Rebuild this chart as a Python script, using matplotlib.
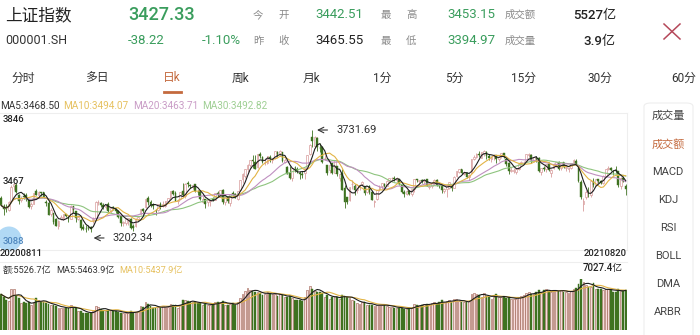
import numpy as np
import pandas as pd
import matplotlib
matplotlib.use("Agg")
import matplotlib.pyplot as plt
from matplotlib.patches import FancyBboxPatch, Ellipse
from matplotlib.lines import Line2D

plt.rcParams['font.family'] = ['Roboto', 'Noto Sans CJK SC', 'DejaVu Sans']

# daily bars 2020-08-11 .. 2021-08-20
opens = [3380, 3335, 3325, 3317, 3365, 3440, 3448, 3395, 3368, 3390, 3392, 3370, 3335, 3349, 3416,
         3396, 3410, 3410, 3360, 3355, 3296, 3300, 3270, 3234, 3270, 3277, 3295, 3280, 3272, 3335, 3309, 3272, 3263, 3226, 3219, 3225, 3230,
         3263, 3275, 3356, 3354, 3340, 3332, 3345, 3311, 3333, 3321, 3313, 3283, 3250, 3250, 3263, 3271,
         3234, 3232, 3268, 3294, 3320, 3330, 3378, 3356, 3342, 3312, 3315, 3348, 3339, 3338, 3364, 3383, 3414, 3405, 3365, 3373, 3414,
         3388, 3455, 3447, 3437, 3449, 3412, 3413, 3358, 3374, 3357, 3361, 3374, 3369, 3404, 3394, 3420, 3358, 3386, 3353, 3403, 3398, 3375, 3419,
         3475, 3492, 3530, 3552, 3577, 3567, 3538, 3608, 3594, 3564, 3558, 3593, 3575, 3586, 3615, 3612, 3620, 3567, 3542, 3510,
         3484, 3535, 3531, 3510, 3505, 3510, 3534, 3607, 3697, 3649, 3691, 3638, 3646, 3584, 3548,
         3526, 3560, 3510, 3545, 3485, 3510, 3430, 3383, 3366, 3450, 3443, 3418, 3435, 3451, 3442, 3410, 3442, 3410, 3356, 3371, 3423, 3439, 3454,
         3441, 3470, 3481, 3482, 3473, 3478, 3444, 3412, 3399, 3417, 3401, 3424, 3475, 3467, 3474, 3465, 3476, 3436, 3443, 3455, 3470,
         3442, 3443, 3417, 3426, 3432, 3441, 3432, 3494, 3516, 3527, 3502, 3509, 3489, 3507, 3583, 3590, 3608, 3588,
         3611, 3619, 3597, 3579, 3597, 3600, 3580, 3596, 3610, 3583, 3563, 3518, 3520, 3515, 3530, 3559, 3565, 3570, 3604, 3604, 3575,
         3589, 3589, 3513, 3531, 3527, 3553, 3506, 3532, 3547, 3568, 3533, 3566, 3536, 3531, 3532, 3565, 3571, 3537, 3464, 3347, 3385, 3402,
         3396, 3466, 3448, 3475, 3465, 3457, 3495, 3531, 3534, 3517, 3523, 3517, 3441, 3480, 3442.51]

closes = [3340, 3320, 3320, 3360, 3438, 3451, 3408, 3364, 3381, 3386, 3374, 3330, 3350, 3404, 3396,
          3411, 3405, 3385, 3355, 3292, 3316, 3255, 3235, 3260, 3278, 3295, 3284, 3270, 3338, 3316, 3275, 3279, 3223, 3219, 3217, 3224, 3218,
          3272, 3359, 3359, 3340, 3332, 3336, 3313, 3328, 3325, 3312, 3278, 3251, 3254, 3270, 3273, 3225,
          3225, 3272, 3278, 3320, 3312, 3373, 3360, 3342, 3338, 3310, 3346, 3339, 3347, 3363, 3377, 3414, 3402, 3362, 3369, 3408, 3392,
          3452, 3449, 3442, 3445, 3416, 3411, 3371, 3373, 3347, 3369, 3367, 3366, 3404, 3395, 3421, 3357, 3383, 3363, 3397, 3397, 3379, 3415, 3473,
          3503, 3528, 3550, 3576, 3570, 3531, 3608, 3598, 3566, 3566, 3596, 3584, 3584, 3622, 3607, 3625, 3570, 3574, 3505, 3483,
          3533, 3533, 3518, 3501, 3496, 3532, 3604, 3655, 3675, 3696, 3642, 3636, 3564, 3585, 3509,
          3551, 3508, 3576, 3503, 3502, 3421, 3360, 3357, 3436, 3454, 3419, 3447, 3446, 3464, 3405, 3443, 3411, 3367, 3364, 3418, 3435, 3457, 3442,
          3467, 3484, 3483, 3479, 3482, 3451, 3412, 3397, 3417, 3399, 3427, 3477, 3473, 3472, 3466, 3474, 3441, 3442, 3458, 3474, 3447,
          3441, 3419, 3428, 3441, 3463, 3429, 3490, 3518, 3529, 3510, 3507, 3487, 3497, 3581, 3593, 3609, 3601, 3615,
          3625, 3597, 3585, 3592, 3599, 3581, 3592, 3610, 3590, 3557, 3518, 3525, 3526, 3530, 3557, 3567, 3566, 3607, 3606, 3574, 3591,
          3588, 3519, 3534, 3531, 3553, 3525, 3525, 3548, 3567, 3528, 3565, 3539, 3539, 3537, 3562, 3575, 3550, 3467, 3382, 3361, 3411, 3397,
          3465, 3447, 3477, 3467, 3458, 3494, 3529, 3532, 3524, 3517, 3517, 3447, 3485, 3465, 3427.33]

highs = [3390, 3345, 3350, 3361, 3444, 3458, 3455, 3398, 3390, 3406, 3403, 3376, 3360, 3405, 3424,
         3414, 3412, 3412, 3370, 3363, 3327, 3303, 3276, 3264, 3291, 3296, 3298, 3289, 3340, 3337, 3310, 3293, 3268, 3246, 3237, 3236, 3234,
         3280, 3361, 3366, 3358, 3353, 3344, 3357, 3333, 3335, 3329, 3318, 3285, 3258, 3275, 3276, 3276,
         3245, 3275, 3287, 3322, 3327, 3373, 3388, 3369, 3352, 3322, 3348, 3357, 3363, 3365, 3378, 3415, 3420, 3413, 3373, 3410, 3456,
         3457, 3465, 3453, 3448, 3452, 3420, 3420, 3390, 3376, 3373, 3369, 3383, 3404, 3413, 3421, 3424, 3383, 3390, 3398, 3413, 3407, 3415, 3474,
         3511, 3528, 3556, 3577, 3601, 3600, 3608, 3617, 3595, 3588, 3597, 3601, 3587, 3625, 3622, 3626, 3620, 3588, 3545, 3546,
         3534, 3544, 3540, 3519, 3521, 3533, 3604, 3658, 3731.69, 3702, 3698, 3666, 3648, 3603, 3548,
         3552, 3562, 3577, 3545, 3505, 3528, 3445, 3386, 3437, 3473, 3452, 3450, 3450, 3468, 3443, 3443, 3446, 3416, 3369, 3418, 3448, 3458, 3458,
         3471, 3485, 3488, 3491, 3490, 3478, 3445, 3418, 3418, 3421, 3428, 3477, 3479, 3473, 3477, 3476, 3479, 3446, 3460, 3475, 3475,
         3459, 3452, 3431, 3442, 3463, 3447, 3491, 3521, 3530, 3531, 3520, 3512, 3504, 3582, 3600, 3611, 3621, 3617,
         3626, 3624, 3605, 3598, 3609, 3602, 3599, 3611, 3611, 3584, 3564, 3539, 3536, 3532, 3558, 3569, 3572, 3609, 3612, 3607, 3593,
         3599, 3590, 3535, 3547, 3556, 3568, 3528, 3563, 3568, 3570, 3566, 3566, 3549, 3540, 3562, 3579, 3582, 3537, 3473, 3378, 3422, 3438,
         3465, 3482, 3478, 3478, 3471, 3496, 3529, 3543, 3540, 3524, 3543, 3521, 3486, 3491, 3453.15]

lows = [3335, 3292, 3305, 3310, 3360, 3420, 3404, 3349, 3360, 3372, 3365, 3328, 3322, 3345, 3395,
        3385, 3390, 3379, 3335, 3290, 3285, 3246, 3234, 3217, 3262, 3262, 3278, 3256, 3271, 3300, 3254, 3265, 3215, 3211, 3204, 3213, 3202.34,
        3250, 3273, 3342, 3330, 3323, 3320, 3308, 3302, 3316, 3300, 3275, 3235, 3231, 3237, 3240, 3220,
        3208, 3226, 3260, 3289, 3295, 3327, 3343, 3334, 3320, 3290, 3312, 3320, 3332, 3332, 3355, 3375, 3394, 3362, 3347, 3368, 3387,
        3381, 3436, 3430, 3426, 3412, 3395, 3370, 3358, 3325, 3339, 3338, 3364, 3366, 3384, 3385, 3347, 3342, 3355, 3336, 3386, 3378, 3370, 3418,
        3457, 3484, 3513, 3539, 3532, 3527, 3533, 3586, 3558, 3548, 3557, 3564, 3562, 3579, 3590, 3600, 3565, 3561, 3504, 3478,
        3466, 3515, 3508, 3479, 3482, 3478, 3534, 3601, 3642, 3639, 3625, 3620, 3563, 3574, 3496,
        3511, 3501, 3506, 3492, 3465, 3420, 3329, 3350, 3361, 3428, 3395, 3404, 3418, 3441, 3396, 3405, 3399, 3366, 3332, 3367, 3415, 3428, 3437,
        3439, 3461, 3461, 3468, 3463, 3444, 3406, 3382, 3393, 3394, 3390, 3410, 3462, 3454, 3455, 3453, 3439, 3423, 3433, 3444, 3442,
        3429, 3407, 3404, 3386, 3423, 3417, 3430, 3489, 3510, 3502, 3496, 3483, 3471, 3507, 3578, 3584, 3593, 3585,
        3595, 3580, 3577, 3565, 3578, 3563, 3570, 3589, 3586, 3545, 3505, 3513, 3508, 3502, 3523, 3552, 3553, 3566, 3593, 3563, 3567,
        3568, 3512, 3496, 3517, 3516, 3521, 3488, 3530, 3540, 3524, 3526, 3535, 3521, 3516, 3527, 3554, 3550, 3463, 3371, 3312, 3374, 3386,
        3386, 3437, 3444, 3456, 3452, 3452, 3491, 3523, 3518, 3497, 3511, 3434, 3427, 3464, 3394.97]

# turnover, 亿
turnover = [4900, 4500, 4100, 4000, 5600, 5600, 4700, 4400, 3700, 3800, 3700, 3800, 3500, 3900, 4400,
            4100, 3900, 3800, 3700, 3600, 3400, 3400, 3300, 3100, 3000, 3100, 3000, 3000, 3400, 3100, 3000, 2600, 2600, 2400, 2300, 2400, 2300,
            2600, 3300, 3200, 2900, 2700, 2600, 2700, 2700, 2600, 2600, 2500, 2400, 2300, 2300, 2400, 2600,
            2400, 2500, 2600, 3300, 3200, 3900, 3600, 3300, 3100, 3000, 3200, 3100, 3300, 3200, 3200, 3600, 3400, 3500, 3100, 3500, 4100,
            4100, 4000, 3800, 3900, 3800, 3700, 3700, 3500, 3600, 3400, 3500, 3500, 3900, 3800, 3900, 4000, 3500, 3400, 3600, 3700, 3500, 3800, 4400,
            4900, 5400, 5800, 5500, 5400, 5200, 5300, 5100, 4800, 4900, 5200, 5100, 4900, 5000, 4700, 4900, 4800, 4500, 4500, 4700,
            4400, 4200, 4100, 4100, 4000, 4500, 5500, 6000, 5700, 5400, 5300, 5200, 5100, 4600, 4800,
            4300, 4500, 4700, 4500, 4300, 4800, 4700, 4500, 4400, 4200, 4000, 3700, 3600, 3800, 3900, 3500, 3400, 3500, 3300, 3400, 3500, 3400, 3500,
            3300, 3200, 3200, 3100, 3000, 3100, 3000, 2900, 2900, 3000, 3100, 3600, 3400, 3400, 3500, 3600, 3600, 3500, 3700, 3900, 3600,
            3800, 4100, 3800, 4000, 4100, 3900, 4300, 4300, 4000, 3800, 3800, 3800, 4000, 5000, 5100, 4900, 4800, 4600,
            5100, 4700, 4500, 4300, 4600, 4900, 4500, 4500, 4600, 4400, 4500, 4300, 4300, 4300, 4500, 4700, 4800, 5100, 5200, 5000, 4900,
            5200, 5500, 5300, 5500, 5700, 5400, 5200, 5400, 5500, 5400, 5500, 5300, 5200, 5100, 5400, 5600, 5800, 6400, 7027.4, 6600, 6200, 5900,
            5900, 6500, 5600, 5600, 5600, 5500, 5700, 5600, 5500, 5300, 5300, 5600, 5400, 5400, 5526.7]

first_date, last_date = "20200811", "20210820"
axis_labels = [3846, 3467, 3088]
ma_windows = [5, 10, 20, 30]
ma_legend = ["MA5:3468.50", "MA10:3494.07", "MA20:3463.71", "MA30:3492.82"]
vol_legend = ["额:5526.7亿", "MA5:5463.9亿", "MA10:5437.9亿"]
tabs = ["分时", "多日", "日k", "周k", "月k", "1分", "5分", "15分", "30分", "60分"]
side_items = ["成交量", "成交额", "MACD", "KDJ", "RSI", "BOLL", "DMA", "ARBR"]

W, H = 700, 335
GREEN_TXT = '#3a9d5d'
UP_EDGE = '#d89c9c'
DOWN = '#3e7220'
MA_COLORS = ['#1e1e1e', '#e2b445', '#bf8fc0', '#8ec47e']
MA_TXT = ['#333333', '#e6c160', '#c99cc6', '#9fcf94']

fig = plt.figure(figsize=(7, 3.35), dpi=100)
fig.patch.set_facecolor('white')


def fx(x):
    return x / W


def fy(y):
    return 1 - y / H


def txt(x, y, s, size=8, color='#333333', ha='left', weight='normal'):
    fig.text(fx(x), fy(y), s, fontsize=size, color=color, ha=ha, va='center', weight=weight)


def hline(x0, x1, y, color='#eeeeee', lw=0.8):
    fig.add_artist(Line2D([fx(x0), fx(x1)], [fy(y), fy(y)], color=color, lw=lw))


#header
txt(5, 15, "上证指数", size=12, color='#222222')
txt(128, 15, "3427.33", size=13, color=GREEN_TXT, weight='medium')
txt(5, 41, "000001.SH", size=9, color='#333333')
txt(128, 41, "-38.22", size=9.5, color=GREEN_TXT)
txt(241, 41, "-1.10%", size=9.5, color=GREEN_TXT, ha='right')
rows = [(15, ("今", "开"), "3442.51", GREEN_TXT, ("最", "高"), "3453.15", "成交额", "5527亿"),
        (41, ("昨", "收"), "3465.55", '#222222', ("最", "低"), "3394.97", "成交量", "3.9亿")]
for y, l1, v1, c1, l2, v2, l3, v3 in rows:
    txt(253, y, l1[0], size=7.5, color='#8a8a8a')
    txt(278, y, l1[1], size=7.5, color='#8a8a8a')
    txt(315, y, v1, size=9.5, color=c1)
    txt(381, y, l2[0], size=7.5, color='#8a8a8a')
    txt(406, y, l2[1], size=7.5, color='#8a8a8a')
    txt(447, y, v2, size=9.5, color=GREEN_TXT)
    txt(505, y, l3, size=7.5, color='#8a8a8a')
    txt(616, y, v3, size=9.5, color='#222222', ha='right', weight='medium')
fig.add_artist(Line2D([fx(664), fx(680)], [fy(24), fy(39)], color='#b5485a', lw=1.1))
fig.add_artist(Line2D([fx(680), fx(664)], [fy(24), fy(39)], color='#b5485a', lw=1.1))

#tabs
tab_x = [23, 97, 172, 240, 311, 382, 454, 523, 600, 684]
for t, x in zip(tabs, tab_x):
    txt(x, 78, t, size=8.5, color='#c46a3e' if t == "日k" else '#333333', ha='center')
fig.add_artist(Line2D([fx(164), fx(181)], [fy(92), fy(92)], color='#c46a3e', lw=2))

#MA legend
for s, c, x in zip(ma_legend, MA_TXT, [0, 63, 133, 202]):
    txt(x, 106, s, size=7.2, color=c)

#price panel
n = len(closes)
xs = np.arange(n)
o = np.array(opens)
c = np.array(closes)
hi = np.array(highs)
lo = np.array(lows)
up = c > o

ax = fig.add_axes([0, fy(254), 627 / W, (254 - 108) / H])
ax.set_xlim(-0.5, n - 0.5)
ax.set_ylim(axis_labels[-1], axis_labels[0])
ax.axis('off')

wick_col = np.where(up, UP_EDGE, DOWN)
ax.vlines(xs, lo, hi, colors=wick_col, lw=0.6, zorder=1)
body_bottom = np.minimum(o, c)
body_h = np.maximum(np.abs(c - o), 1.0)
ax.bar(xs[up], body_h[up], bottom=body_bottom[up], width=0.72,
       facecolor='white', edgecolor=UP_EDGE, linewidth=0.5, zorder=2)
ax.bar(xs[~up], body_h[~up], bottom=body_bottom[~up], width=0.72,
       facecolor=DOWN, edgecolor=DOWN, linewidth=0.3, zorder=2)

cs = pd.Series(c)
for w, col in zip(ma_windows[::-1], MA_COLORS[::-1]):
    ax.plot(xs, cs.rolling(w, min_periods=1).mean(), color=col, lw=0.8, zorder=3)

imax = int(np.argmax(hi))
imin = int(np.argmin(lo))
ax.annotate('', xy=(imax + 0.8, hi[imax]), xytext=(16, 0), textcoords='offset pixels',
            arrowprops=dict(arrowstyle='->', color='#333333', lw=0.8))
ax.annotate(f"{hi[imax]:.2f}", xy=(imax + 0.8, hi[imax]), xytext=(22, 0), textcoords='offset pixels',
            fontsize=8, color='#333333', va='center')
# the low marker sits a few pixels under the wick
low_mark = ax.transData.inverted().transform(ax.transData.transform((imin, lo[imin])) - (0, 6))
ax.annotate('', xy=low_mark, xytext=(16, 0), textcoords='offset pixels',
            arrowprops=dict(arrowstyle='->', color='#333333', lw=0.8))
ax.annotate(f"{lo[imin]:.2f}", xy=low_mark, xytext=(22, 0), textcoords='offset pixels',
            fontsize=8, color='#333333', va='center')

hline(0, 627, 113)
hline(0, 627, 250)
fig.add_artist(Line2D([fx(627), fx(627)], [fy(113), fy(250)], color='#eeeeee', lw=0.8))
txt(3, 120, str(axis_labels[0]), size=6.8, color='#222222', weight='medium')
txt(3, 181, str(axis_labels[1]), size=6.8, color='#222222', weight='medium')
fig.add_artist(Ellipse((fx(9), fy(239)), 25 / W, 25 / H, transform=fig.transFigure,
                       facecolor='#a9d5f4', edgecolor='none', alpha=0.9))
txt(3, 242, str(axis_labels[2]), size=6.8, color='#4f86bd', weight='medium')
txt(0, 253, first_date, size=6.8, color='#222222', weight='medium')
txt(627, 253, last_date, size=6.8, color='#222222', weight='medium', ha='right')

#turnover panel
hline(0, 627, 262)
for s, col, x in zip(vol_legend, ['#333333', '#333333', '#e6c160'], [3, 56, 119]):
    txt(x, 270, s, size=6.6, color=col)
vol = np.array(turnover)
txt(623, 268, f"{vol.max():.1f}亿", size=7, color='#222222', ha='right', weight='medium')

ax2 = fig.add_axes([0, fy(330), 627 / W, (330 - 279) / H])
ax2.set_xlim(-0.5, n - 0.5)
ax2.set_ylim(0, vol.max())
ax2.axis('off')
ax2.bar(xs[up], vol[up], width=0.72, facecolor='#f6dcdc', edgecolor='#9a5848', linewidth=0.4)
ax2.bar(xs[~up], vol[~up], width=0.72, facecolor=DOWN, edgecolor=DOWN, linewidth=0.3)
vs = pd.Series(vol)
ax2.plot(xs, vs.rolling(10, min_periods=1).mean(), color='#e2b445', lw=0.8)
ax2.plot(xs, vs.rolling(5, min_periods=1).mean(), color='#1e1e1e', lw=0.8)

#side menu
box = FancyBboxPatch((fx(644), fy(345)), fx(693) - fx(644), fy(103) - fy(345),
                     boxstyle='round,pad=0,rounding_size=0.01', transform=fig.transFigure,
                     facecolor='white', edgecolor='#eeeeee', lw=0.8)
fig.add_artist(box)
for i, s in enumerate(side_items):
    txt(668, 116 + i * 28, s, size=8, color='#c46a3e' if s == "成交额" else '#444444', ha='center')

fig.savefig("out.png", dpi=100, facecolor='white')
